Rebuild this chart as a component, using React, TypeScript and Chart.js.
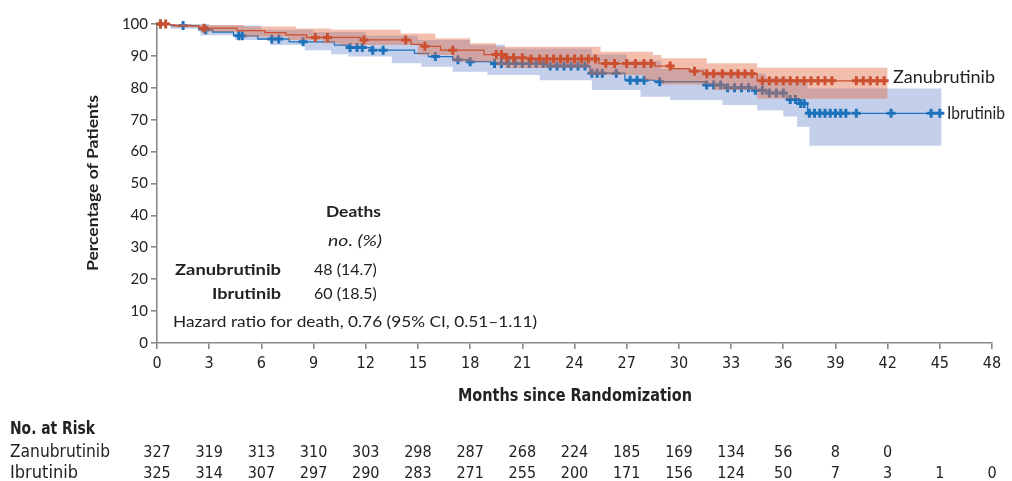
import React, { useEffect, useRef } from "react";
import { Chart, registerables } from "chart.js";

Chart.register(...registerables);

// ---- axes ----
const monthTicks = [0, 3, 6, 9, 12, 15, 18, 21, 24, 27, 30, 33, 36, 39, 42, 45, 48];
const percentTicks = [0, 10, 20, 30, 40, 50, 60, 70, 80, 90, 100];

// ---- Zanubrutinib Kaplan-Meier (months, % alive) ----
const zanuTimes = [0, 1.0, 2.4, 4.6, 6.2, 7.4, 8.6, 11.7, 14.6, 15.2, 16.3, 18.8, 19.9, 21.5, 25.4, 28.6, 29.6, 30.6, 31.4, 34.5, 42.0];
const zanuSurv = [100, 99.4, 98.7, 97.9, 97.3, 96.6, 95.8, 95.0, 93.6, 93.0, 91.8, 90.4, 89.4, 89.0, 87.6, 86.8, 86.0, 85.2, 84.4, 82.2, 82.2];
const zanuUpperTimes = [0, 2.0, 5.0, 8.0, 10.0, 14.0, 16.0, 18.0, 19.5, 25.5, 28.5, 29.0, 31.6, 34.5, 42.0];
const zanuUpper = [100, 99.7, 99.2, 98.6, 98.2, 97.0, 95.5, 94.0, 92.9, 91.3, 90.3, 89.3, 87.7, 86.3, 86.3];
const zanuLowerTimes = [0, 0.8, 2.5, 5.0, 7.5, 9.5, 10.5, 15.0, 17.0, 19.5, 20.0, 24.8, 28.0, 29.0, 32.0, 34.5, 42.0];
const zanuLower = [100, 99.0, 97.6, 96.0, 95.0, 94.0, 93.4, 90.3, 88.2, 87.0, 86.2, 84.0, 82.4, 81.0, 79.3, 76.6, 76.6];
const zanuCensored = [0.2, 0.5, 2.7, 9.1, 9.8, 11.9, 14.3, 15.4, 17.0, 19.5, 19.8, 20.1, 20.5, 21.0, 21.5, 22.0, 22.4, 22.8, 23.2, 23.6, 24.0, 24.4, 24.8, 25.2, 25.8, 26.3, 27.0, 27.5, 28.0, 28.4, 29.5, 30.9, 31.6, 32.0, 32.5, 33.0, 33.4, 33.8, 34.2, 34.8, 35.2, 35.6, 36.0, 36.4, 36.8, 37.2, 37.6, 38.0, 38.4, 38.8, 40.2, 40.6, 41.0, 41.4, 41.8];

// ---- Ibrutinib Kaplan-Meier ----
const ibruTimes = [0, 0.8, 2.4, 3.2, 4.4, 5.8, 7.6, 10.2, 11.0, 12.3, 14.8, 15.6, 17.0, 17.9, 19.2, 22.4, 24.9, 26.9, 28.6, 31.5, 32.7, 34.2, 35.2, 36.2, 36.9, 37.4, 45.0];
const ibruSurv = [100, 99.5, 98.2, 97.5, 96.3, 95.3, 94.4, 93.4, 92.6, 91.8, 90.8, 89.8, 88.8, 88.2, 87.6, 86.8, 84.6, 82.4, 81.9, 80.9, 80.0, 79.2, 78.4, 76.3, 75.1, 72.0, 72.0];
const ibruUpperTimes = [0, 1.0, 3.0, 6.0, 9.0, 12.0, 15.0, 18.0, 20.0, 25.0, 27.0, 29.0, 31.5, 34.0, 35.0, 36.2, 37.4, 45.1];
const ibruUpper = [100, 100, 99.5, 98.2, 97.5, 96.3, 95.0, 93.5, 92.3, 90.5, 88.5, 86.0, 85.2, 84.5, 83.2, 82.0, 79.8, 79.8];
const ibruLowerTimes = [0, 0.8, 2.5, 4.5, 6.5, 8.5, 10.0, 11.0, 13.5, 15.2, 17.0, 19.0, 22.0, 25.0, 27.8, 29.5, 32.5, 34.5, 36.0, 36.8, 37.5, 45.1];
const ibruLower = [100, 98.5, 96.5, 95.0, 93.4, 91.8, 90.5, 89.8, 87.7, 86.6, 85.0, 84.0, 82.4, 79.3, 77.2, 76.2, 74.6, 73.0, 71.0, 67.8, 61.8, 61.8];
const ibruCensored = [0.2, 1.5, 2.8, 4.7, 4.9, 6.6, 7.0, 8.4, 11.1, 11.5, 11.8, 12.4, 13.0, 16.0, 17.3, 18.0, 19.4, 19.8, 20.2, 20.6, 21.0, 21.4, 21.8, 22.2, 22.6, 23.0, 23.4, 23.8, 24.2, 24.6, 25.0, 25.3, 25.6, 26.4, 27.2, 27.6, 28.0, 28.9, 31.6, 32.0, 32.4, 32.8, 33.2, 33.6, 34.0, 34.4, 34.8, 35.2, 35.6, 36.0, 36.4, 36.7, 37.0, 37.2, 37.5, 37.8, 38.1, 38.4, 38.7, 39.0, 39.3, 39.6, 40.2, 42.2, 44.5, 45.0];

// ---- number at risk ----
const riskZanu = [327, 319, 313, 310, 303, 298, 287, 268, 224, 185, 169, 134, 56, 8, 0];
const riskIbru = [325, 314, 307, 297, 290, 283, 271, 255, 200, 171, 156, 124, 50, 7, 3, 1, 0];

// ---- annotation text ----
const seriesNames = ["Zanubrutinib", "Ibrutinib"];
const deathsText = ["48 (14.7)", "60 (18.5)"];
const hazardText = "Hazard ratio for death, 0.76 (95% CI, 0.51\u20131.11)";

const LATO = "Lato, 'Open Sans', sans-serif";
const NARROW = "'Liberation Sans Narrow', 'DejaVu Sans Condensed', 'Roboto Condensed', sans-serif";
const RED = "#cc5030";
const BLUE = "#1d72ba";
const AXIS = "#8a8a8a";

const pts = (ts: number[], vs: number[]) => ts.map((t, i) => ({ x: t, y: vs[i] }));
const stepAt = (ts: number[], vs: number[], t: number) => {
  let v = vs[0];
  for (let i = 0; i < ts.length; i++) if (ts[i] <= t) v = vs[i];
  return v;
};
const censorPts = (cs: number[], ts: number[], vs: number[]) => cs.map((c) => ({ x: c, y: stepAt(ts, vs, c) }));

// draws left-aligned text stretched/condensed to a given width
function fitText(ctx: CanvasRenderingContext2D, text: string, x: number, y: number, width: number) {
  const w = ctx.measureText(text).width;
  ctx.save();
  ctx.textAlign = "left";
  ctx.translate(x, y);
  ctx.scale(width / w, 1);
  ctx.fillText(text, 0, 0);
  ctx.restore();
}

const annotations = {
  id: "annotations",
  afterDraw(chart: any) {
    const ctx: CanvasRenderingContext2D = chart.ctx;
    const xs = chart.scales.x;
    ctx.save();
    ctx.fillStyle = "#222";
    ctx.textBaseline = "middle";

    // y title
    ctx.save();
    ctx.translate(93, 183);
    ctx.rotate(-Math.PI / 2);
    ctx.font = `bold 15px ${LATO}`;
    fitText(ctx, "Percentage of Patients", -88, 0, 176);
    ctx.restore();

    // x title
    ctx.font = `bold 18px ${NARROW}`;
    fitText(ctx, "Months since Randomization", 458, 396, 234);

    // inset
    ctx.font = `bold 16px ${LATO}`;
    fitText(ctx, "Deaths", 326, 212, 55);
    ctx.font = `italic 16px ${LATO}`;
    fitText(ctx, "no. (%)", 328, 241, 54);
    ctx.font = `bold 16px ${LATO}`;
    fitText(ctx, seriesNames[0], 175, 270, 106);
    fitText(ctx, seriesNames[1], 212, 294, 69);
    ctx.font = `16px ${LATO}`;
    ctx.textAlign = "left";
    ctx.fillText(deathsText[0], 314, 270);
    ctx.fillText(deathsText[1], 314, 294);
    fitText(ctx, hazardText, 173, 322, 364);

    // right labels
    ctx.font = `17px ${LATO}`;
    fitText(ctx, seriesNames[0], 893, 78, 102);
    fitText(ctx, seriesNames[1], 947, 114, 58);

    // number at risk
    ctx.font = `bold 17px ${NARROW}`;
    fitText(ctx, "No. at Risk", 10, 430, 85);
    ctx.font = `17px ${NARROW}`;
    fitText(ctx, seriesNames[0], 10, 453, 100);
    fitText(ctx, seriesNames[1], 10, 474, 68);
    ctx.font = `16px ${NARROW}`;
    ctx.textAlign = "center";
    riskZanu.forEach((n, i) => ctx.fillText(String(n), xs.getPixelForValue(monthTicks[i]), 453));
    riskIbru.forEach((n, i) => ctx.fillText(String(n), xs.getPixelForValue(monthTicks[i]), 474));
    ctx.restore();
  },
};

export default function App() {
  const ref = useRef<HTMLCanvasElement>(null);
  useEffect(() => {
    if (!ref.current) return;
    const markStyle = (color: string) => ({
      type: "line" as const,
      showLine: false,
      pointStyle: "cross",
      pointRadius: 4.5,
      pointBorderWidth: 3,
      pointBorderColor: color,
      pointBackgroundColor: color,
      borderColor: color,
      clip: false,
    });
    const chart = new Chart(ref.current, {
      type: "line",
      data: {
        datasets: [
          { ...markStyle(RED), data: censorPts(zanuCensored, zanuTimes, zanuSurv), order: 0 },
          { data: pts(zanuTimes, zanuSurv), borderColor: RED, borderWidth: 1.3, pointRadius: 0, stepped: "before", fill: false, order: 1 },
          { data: pts(zanuUpperTimes, zanuUpper), borderWidth: 0, borderColor: "rgba(0,0,0,0)", pointRadius: 0, stepped: "before", fill: "+1", backgroundColor: "rgba(226,112,78,0.45)", order: 2 },
          { data: pts(zanuLowerTimes, zanuLower), borderWidth: 0, borderColor: "rgba(0,0,0,0)", pointRadius: 0, stepped: "before", fill: false, order: 2 },
          { ...markStyle(BLUE), data: censorPts(ibruCensored, ibruTimes, ibruSurv), order: 3 },
          { data: pts(ibruTimes, ibruSurv), borderColor: BLUE, borderWidth: 1.3, pointRadius: 0, stepped: "before", fill: false, order: 4 },
          { data: pts(ibruUpperTimes, ibruUpper), borderWidth: 0, borderColor: "rgba(0,0,0,0)", pointRadius: 0, stepped: "before", fill: "+1", backgroundColor: "rgba(100,130,205,0.38)", order: 5 },
          { data: pts(ibruLowerTimes, ibruLower), borderWidth: 0, borderColor: "rgba(0,0,0,0)", pointRadius: 0, stepped: "before", fill: false, order: 5 },
        ] as any,
      },
      options: {
        animation: false,
        responsive: false,
        events: [],
        layout: { padding: { left: 0, right: 20, top: 24, bottom: 0 } },
        plugins: { legend: { display: false }, tooltip: { enabled: false } },
        scales: {
          x: {
            type: "linear",
            min: 0,
            max: 48,
            afterFit: (s: any) => { s.height = 138; },
            afterBuildTicks: (s: any) => { s.ticks = monthTicks.map((v) => ({ value: v })); },
            border: { display: true, color: AXIS, width: 1.6 },
            grid: { display: true, drawOnChartArea: false, drawTicks: true, tickLength: 6, color: AXIS, lineWidth: 1.6 },
            ticks: { font: { family: NARROW, size: 16 }, color: "#222", padding: 5, maxRotation: 0, autoSkip: false },
          },
          y: {
            type: "linear",
            min: 0,
            max: 100,
            afterFit: (s: any) => { s.width = 157; },
            afterBuildTicks: (s: any) => { s.ticks = percentTicks.map((v) => ({ value: v })); },
            border: { display: true, color: AXIS, width: 1.6 },
            grid: { display: true, drawOnChartArea: false, drawTicks: true, tickLength: 6, color: AXIS, lineWidth: 1.6 },
            ticks: { font: { family: LATO, size: 15 }, color: "#222", padding: 3 },
          },
        },
      } as any,
      plugins: [annotations],
    });
    return () => chart.destroy();
  }, []);
  return (
    <div style={{ position: "fixed", left: 0, top: 0, width: 1012, height: 481, background: "#fff" }}>
      <canvas ref={ref} width={1012} height={481} style={{ display: "block" }} />
    </div>
  );
}
